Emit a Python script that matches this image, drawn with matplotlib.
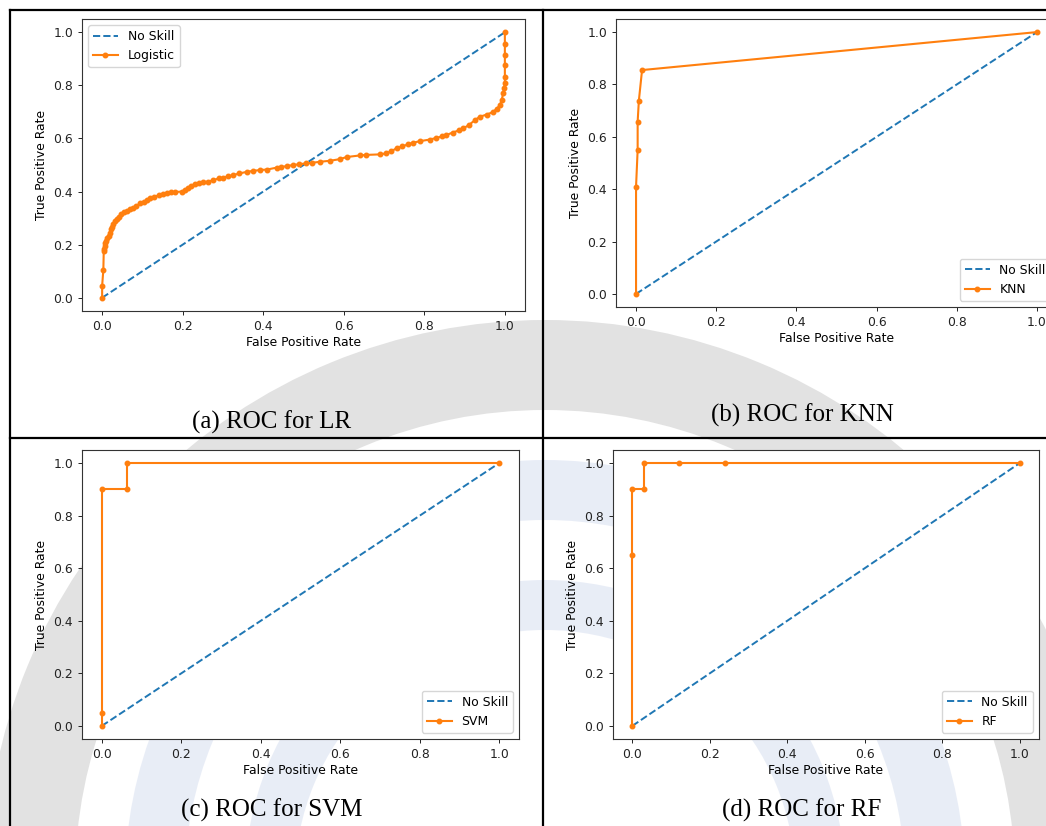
import matplotlib
matplotlib.use("Agg")
import matplotlib.pyplot as plt
from matplotlib.patches import Wedge
from matplotlib.lines import Line2D

W, H = 1046, 826

# ROC points
lr_fpr = [0.000, 0.000, 0.003, 0.004, 0.005, 0.006, 0.008, 0.010, 0.013, 0.016,
          0.019, 0.022, 0.025, 0.028, 0.032, 0.036, 0.042, 0.048, 0.055, 0.062,
          0.069, 0.076, 0.084, 0.094, 0.104, 0.112, 0.120, 0.130, 0.140, 0.150,
          0.160, 0.170, 0.180, 0.198, 0.205, 0.212, 0.220, 0.230, 0.240, 0.250,
          0.262, 0.275, 0.290, 0.300, 0.312, 0.326, 0.340, 0.359, 0.375, 0.392,
          0.410, 0.433, 0.445, 0.458, 0.475, 0.490, 0.505, 0.520, 0.540, 0.566,
          0.590, 0.607, 0.640, 0.655, 0.690, 0.706, 0.718, 0.731, 0.745, 0.760,
          0.772, 0.790, 0.814, 0.830, 0.845, 0.855, 0.870, 0.885, 0.897, 0.910,
          0.925, 0.938, 0.955, 0.971, 0.980, 0.988, 0.992, 0.996, 0.998, 1.000,
          1.000, 1.000, 1.000, 1.000, 1.000]
lr_tpr = [0.000, 0.045, 0.105, 0.175, 0.185, 0.195, 0.205, 0.215, 0.225, 0.232,
          0.245, 0.258, 0.268, 0.278, 0.290, 0.296, 0.305, 0.316, 0.322, 0.328,
          0.333, 0.338, 0.345, 0.355, 0.362, 0.368, 0.375, 0.380, 0.386, 0.390,
          0.393, 0.397, 0.398, 0.400, 0.405, 0.412, 0.420, 0.428, 0.433, 0.436,
          0.437, 0.442, 0.450, 0.452, 0.457, 0.462, 0.468, 0.474, 0.478, 0.481,
          0.483, 0.490, 0.492, 0.496, 0.500, 0.503, 0.506, 0.508, 0.512, 0.516,
          0.522, 0.530, 0.536, 0.538, 0.540, 0.544, 0.552, 0.563, 0.570, 0.578,
          0.584, 0.590, 0.596, 0.602, 0.608, 0.613, 0.622, 0.630, 0.638, 0.650,
          0.668, 0.682, 0.690, 0.700, 0.712, 0.726, 0.745, 0.770, 0.790, 0.810,
          0.832, 0.876, 0.914, 0.955, 1.000]

knn_fpr = [0.0, 0.0, 0.004, 0.004, 0.007, 0.015, 1.0]
knn_tpr = [0.0, 0.41, 0.55, 0.658, 0.738, 0.855, 1.0]

svm_fpr = [0.0, 0.0, 0.0, 0.0625, 0.0625, 1.0]
svm_tpr = [0.0, 0.05, 0.9, 0.9, 1.0, 1.0]

rf_fpr = [0.0, 0.0, 0.0, 0.03, 0.03, 0.12, 0.24, 1.0]
rf_tpr = [0.0, 0.65, 0.9, 0.9, 1.0, 1.0, 1.0, 1.0]

panels = [
    # (fpr, tpr, model label, legend loc, caption, axes box in px: left, right, top, bottom, caption xy)
    (lr_fpr, lr_tpr, "Logistic", "upper left", "(a) ROC for LR", (82, 525, 19, 311), (272, 422)),
    (knn_fpr, knn_tpr, "KNN", "lower right", "(b) ROC for KNN", (616, 1057, 19, 307), (802, 415)),
    (svm_fpr, svm_tpr, "SVM", "lower right", "(c) ROC for SVM", (82, 519, 450, 739), (272, 810)),
    (rf_fpr, rf_tpr, "RF", "lower right", "(d) ROC for RF", (613, 1039, 450, 739), (802, 810)),
]

fig = plt.figure(figsize=(W / 100, H / 100), dpi=100)

# background layer in pixel units: faint watermark + table borders
bg = fig.add_axes([0, 0, 1, 1], zorder=-10)
bg.set_xlim(0, W)
bg.set_ylim(H, 0)
bg.axis("off")
bg.add_patch(Wedge((545, 880), 560, 0, 360, width=90, color="#d6d6d6", alpha=0.7, lw=0))
bg.add_patch(Wedge((545, 880), 420, 0, 360, width=60, color="#d3dcef", alpha=0.5, lw=0))
bg.add_patch(Wedge((545, 880), 300, 0, 360, width=50, color="#d3dcef", alpha=0.5, lw=0))
for xs, ys in [([10, 10], [10, H]), ([10, W], [10, 10]), ([543, 543], [10, H]), ([10, W], [438, 438])]:
    bg.add_line(Line2D(xs, ys, color="black", lw=1.6))

for fpr, tpr, name, loc, caption, (l, r, t, b), (cx, cy) in panels:
    ax = fig.add_axes([l / W, 1 - b / H, (r - l) / W, (b - t) / H])
    ax.plot([0, 1], [0, 1], linestyle="--", color="#1f77b4", lw=1.4, label="No Skill")
    ax.plot(fpr, tpr, marker=".", color="#ff7f0e", lw=1.5, ms=6.5, label=name)
    ax.set_xlim(-0.05, 1.05)
    ax.set_ylim(-0.05, 1.05)
    ax.set_xticks([0, 0.2, 0.4, 0.6, 0.8, 1.0])
    ax.set_yticks([0, 0.2, 0.4, 0.6, 0.8, 1.0])
    ax.tick_params(labelsize=8.9, colors="#222222", width=0.7, length=3)
    for s in ax.spines.values():
        s.set_linewidth(0.8)
        s.set_color("#333333")
    ax.set_xlabel("False Positive Rate", fontsize=8.9, labelpad=2)
    ax.set_ylabel("True Positive Rate", fontsize=8.9)
    ax.legend(loc=loc, fontsize=8.9)
    fig.text(cx / W, 1 - cy / H, caption, ha="center", va="center",
             fontsize=18, family="Liberation Serif")

fig.savefig("out.png", dpi=100)
